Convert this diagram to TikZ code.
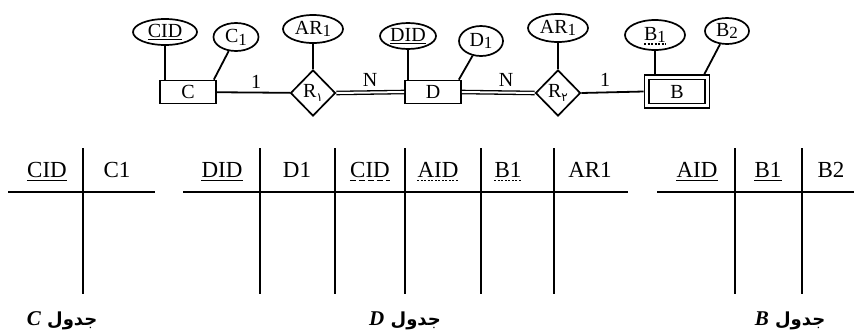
\documentclass[tikz,border=0pt]{standalone}
\usepackage{fontspec}
\setmainfont{Liberation Serif}
\newfontfamily\arabicfont[Script=Arabic]{DejaVu Sans}
\newfontfamily\digitfont{DejaVu Sans}
\TeXXeTstate=1
\usetikzlibrary{shapes.geometric,calc}
\newcommand{\sbs}[1]{\raisebox{-0.3ex}{\fontsize{17}{17}\selectfont #1}}
\newcommand{\fasub}[1]{\raisebox{-0.35ex}{\fontsize{12}{12}\selectfont\digitfont #1}}
\newcommand{\latcap}[1]{{\rmfamily\fontsize{21}{21}\selectfont\textit{#1}}}
\tikzset{
  erfont/.style={font=\fontsize{20}{20}\selectfont},
  attr/.style={ellipse, draw, line width=1.7pt, inner sep=0pt, erfont},
  ent/.style={rectangle, draw, line width=1.7pt, minimum width=56pt, minimum height=23pt, inner sep=0pt, erfont},
  rel/.style={diamond, draw, line width=1.7pt, inner sep=0pt, minimum width=45pt, minimum height=46pt, erfont},
  conn/.style={line width=1.8pt},
  dbl/.style={line width=1.3pt, double, double distance=2pt},
  card/.style={erfont, inner sep=0pt},
  tline/.style={line width=2.2pt},
  ttext/.style={inner sep=0pt, anchor=base, font=\fontsize{23}{23}\selectfont},
  ul/.style={line width=1.3pt},
  fkul/.style={line width=1.3pt, dash pattern=on 6pt off 3pt},
  dotul/.style={line width=1.2pt, dash pattern=on 2pt off 1.5pt},
  tlabel/.style={inner sep=0pt, font=\fontsize{18}{18}\selectfont\bfseries}
}
\begin{document}
\begin{tikzpicture}[x=1pt,y=-1pt]
\useasboundingbox (0,0) rectangle (854,335);
\fill[white] (0,0) rectangle (854,335);

% ---------- ER diagram ----------
\node[attr, minimum width=64pt, minimum height=26pt] (cid) at (165,32) {\underline{CID}};
\node[attr, minimum width=45pt, minimum height=28pt] (c1) at (236,37) {C\sbs{1}};
\node[ent] (C) at (188,92) {C};
\node[attr, minimum width=60pt, minimum height=28pt] (ar1a) at (313,29) {AR\sbs{1}};
\node[rel] (R1) at (313,93) {R\fasub{۱}};
\node[attr, minimum width=56pt, minimum height=26pt] (did) at (408,36) {\underline{DID}};
\node[ent, minimum width=56pt] (D) at (433,92) {D};
\node[attr, minimum width=44pt, minimum height=30pt] (d1) at (481,41) {D\sbs{1}};
\node[attr, minimum width=60pt, minimum height=28pt] (ar1b) at (558,28) {AR\sbs{1}};
\node[rel] (R2) at (558,93) {R\fasub{۲}};
\node[attr, minimum width=60pt, minimum height=30pt] (b1) at (655,35) {B\sbs{1}};
\draw[dotul] ([shift={(-11pt,-9pt)}]b1.center) -- ([shift={(11pt,-9pt)}]b1.center);
\node[rectangle, draw, line width=1.7pt, minimum width=65pt, minimum height=33pt, inner sep=0pt] (Bo) at (677,91.5) {};
\node[ent, minimum width=56pt, minimum height=24pt] (B) at (677,91.5) {B};
\node[attr, minimum width=44pt, minimum height=26pt] (b2) at (727,31) {B\sbs{2}};

\draw[conn] (cid.south) -- (cid.south |- C.north);
\draw[conn] ([xshift=-3pt]C.north east) -- (c1);
\draw[conn] (ar1a) -- (R1);
\draw[conn] (C) -- (R1);
\draw[dbl] (R1.east) -- (D.west);
\draw[conn] (did.south) -- (did.south |- D.north);
\draw[conn] ([xshift=-3pt]D.north east) -- (d1);
\draw[conn] (ar1b) -- (R2);
\draw[dbl] (D.east) -- (R2.west);
\draw[conn] (R2.east) -- (Bo.west);
\draw[conn] (b1.south) -- (b1.south |- Bo.north);
\draw[conn] ([xshift=-6pt]Bo.north east) -- (b2);

\node[card] (n1) at (256,82) {1};
\node[card] (nN1) at (370,80) {N};
\node[card] (nN2) at (506,80) {N};
\node[card] (n2) at (605,80) {1};

% ---------- Table C ----------
\coordinate (hcL) at (8,192); \coordinate (hcR) at (155,192);
\draw[tline] (hcL) -- (hcR);
\coordinate (vc1t) at (83,148); \coordinate (vc1b) at (83,294);
\draw[tline] (vc1t) -- (vc1b);
\node[ttext] (tcid) at (47,177) {CID};
\node[ttext] (tc1) at (117,177) {C1};
\draw[ul] ([yshift=-3.5pt]tcid.base west) -- ([yshift=-3.5pt]tcid.base east);

% ---------- Table D ----------
\coordinate (hdL) at (183,192); \coordinate (hdR) at (628,192);
\draw[tline] (hdL) -- (hdR);
\foreach \x/\n in {260/a,335/b,405/c,481/d,554/e}{
  \coordinate (vd\n t) at (\x,148); \coordinate (vd\n b) at (\x,294);
  \draw[tline] (vd\n t) -- (vd\n b);
}
\node[ttext] (tdid) at (222,177) {DID};
\node[ttext] (td1) at (297,177) {D1};
\node[ttext] (tdcid) at (370,177) {CID};
\node[ttext] (tdaid) at (438,177) {AID};
\node[ttext] (tdb1) at (508,177) {B1};
\node[ttext] (tdar1) at (590,177) {AR1};
\draw[ul] ([yshift=-3.5pt]tdid.base west) -- ([yshift=-3.5pt]tdid.base east);
\draw[fkul] ([yshift=-3.5pt]tdcid.base west) -- ([yshift=-3.5pt]tdcid.base east);
\draw[dotul] ([yshift=-3.5pt]tdaid.base west) -- ([yshift=-3.5pt]tdaid.base east);
\draw[dotul] ([yshift=-3.5pt]tdb1.base west) -- ([yshift=-3.5pt]tdb1.base east);

% ---------- Table B ----------
\coordinate (hbL) at (657,192); \coordinate (hbR) at (854,192);
\draw[tline] (hbL) -- (hbR);
\foreach \x/\n in {735/a,802/b}{
  \coordinate (vb\n t) at (\x,148); \coordinate (vb\n b) at (\x,294);
  \draw[tline] (vb\n t) -- (vb\n b);
}
\node[ttext] (tbaid) at (697,177) {AID};
\node[ttext] (tbb1) at (768,177) {B1};
\node[ttext] (tbb2) at (831,177) {B2};
\draw[ul] ([yshift=-3.5pt]tbaid.base west) -- ([yshift=-3.5pt]tbaid.base east);
\draw[ul] ([yshift=-3.5pt]tbb1.base west) -- ([yshift=-3.5pt]tbb1.base east);

% ---------- captions ----------
\node[tlabel] (lc) at (62,321) {\arabicfont\beginR جدول \latcap{C}\endR};
\node[tlabel] (ld) at (405,321) {\arabicfont\beginR جدول \latcap{D}\endR};
\node[tlabel] (lb) at (790,321) {\arabicfont\beginR جدول \latcap{B}\endR};
\end{tikzpicture}
\end{document}
